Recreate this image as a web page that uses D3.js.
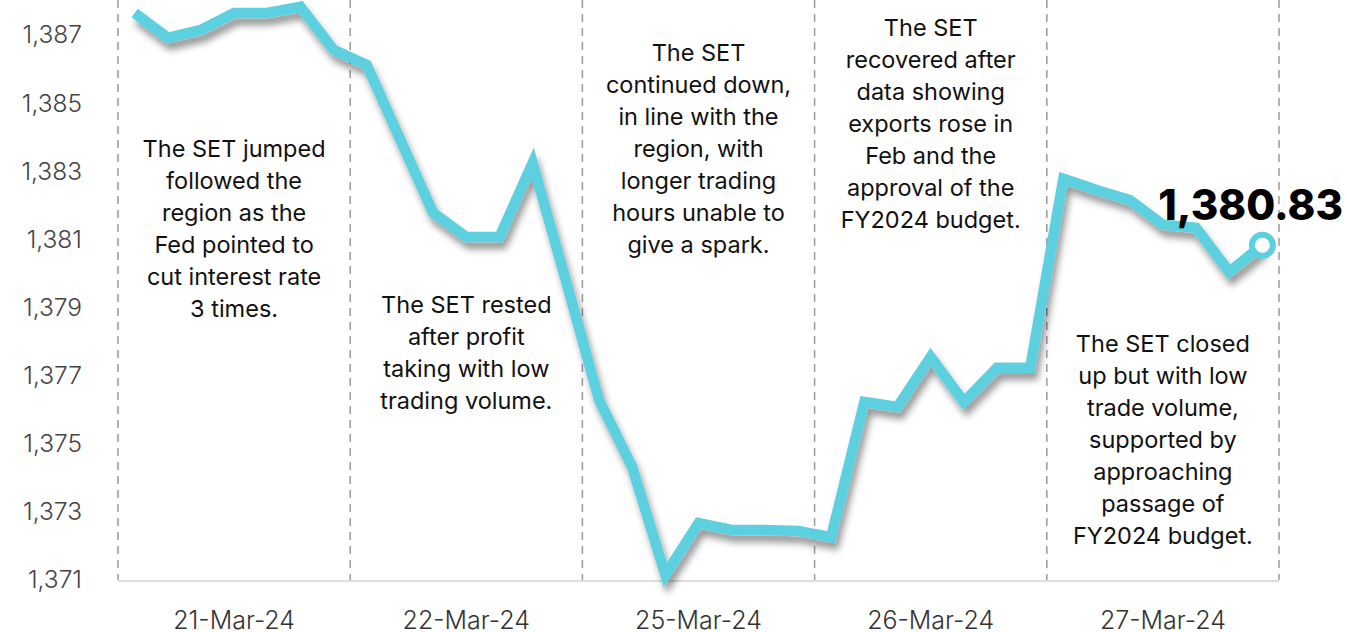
<!DOCTYPE html>
<html><head><meta charset="utf-8">
<script src="https://cdn.jsdelivr.net/npm/d3@7"></script>
<style>
html,body{margin:0;padding:0;background:#fff;}
svg{display:block;font-family:Inter, "Noto Sans", sans-serif;}
</style></head>
<body>
<svg id="chart" width="1347" height="632"></svg>
<script>
const days = ["21-Mar-24","22-Mar-24","25-Mar-24","26-Mar-24","27-Mar-24"];
const values = [
  1387.65,1386.92,1387.15,1387.65,1387.65,1387.83,1386.57,
  1386.12,1383.95,1381.78,1381.07,1381.07,1383.25,1379.8,
  1376.29,1374.32,1371.15,1372.67,1372.47,1372.47,1372.44,
  1372.26,1376.23,1376.08,1377.55,1376.23,1377.23,1377.23,
  1382.78,1382.45,1382.16,1381.43,1381.34,1380.05,1380.83
];
const yTicks = [1371,1373,1375,1377,1379,1381,1383,1385,1387];
const lastLabel = "1,380.83";
const notes = [
  ["The SET jumped","followed the","region as the","Fed pointed to","cut interest rate","3 times."],
  ["The SET rested","after profit","taking with low","trading volume."],
  ["The SET","continued down,","in line with the","region, with","longer trading","hours unable to","give a spark."],
  ["The SET","recovered after","data showing","exports rose in","Feb and the","approval of the","FY2024 budget."],
  ["The SET closed","up but with low","trade volume,","supported by","approaching","passage of","FY2024 budget."]
];
const noteTop = [149,305,53,28,344];

(function(){
const svg = d3.select("#chart");
const mLeft = 118, mRight = 1279, mTop = 0, mBottom = 580;
const x = d3.scaleBand().domain(days).range([mLeft,mRight]);
const xp = d3.scalePoint().domain(d3.range(values.length)).range([mLeft,mRight]).padding(0.5);
const y = d3.scaleLinear().domain([1371,1388.03]).range([mBottom,mTop]);

const defs = svg.append("defs");
const f = defs.append("filter").attr("id","sh").attr("x","-10%").attr("y","-10%").attr("width","120%").attr("height","130%");
f.append("feDropShadow").attr("dx",3).attr("dy",7).attr("stdDeviation",3.5).attr("flood-color","#000").attr("flood-opacity",0.4);

const ya = svg.append("g").attr("transform",`translate(${mLeft},0)`)
  .call(d3.axisLeft(y).tickValues(yTicks).tickFormat(d3.format(",")).tickSize(0).tickPadding(36));
ya.select(".domain").remove();
ya.selectAll("text").attr("font-size",24.5).attr("fill","#444").attr("font-weight",300).attr("font-family","Inter, sans-serif");

svg.append("line").attr("x1",mLeft).attr("x2",mRight).attr("y1",mBottom+1).attr("y2",mBottom+1)
  .attr("stroke","#ddd").attr("stroke-width",2);

const seps = days.map(d=>x(d)).concat([mRight]);
svg.selectAll("line.sep").data(seps).join("line").attr("class","sep")
  .attr("x1",d=>d).attr("x2",d=>d).attr("y1",0).attr("y2",mBottom)
  .attr("stroke","#9a9a9a").attr("stroke-width",1.5).attr("stroke-dasharray","8,6");

const xa = svg.append("g").attr("transform",`translate(0,${mBottom})`)
  .call(d3.axisBottom(x).tickSize(0).tickPadding(31));
xa.select(".domain").remove();
xa.selectAll("text").attr("font-size",25).attr("fill","#333").attr("font-weight",300).attr("font-family","Inter, sans-serif");

notes.forEach((lines,i)=>{
  const cx = x(days[i])+x.bandwidth()/2;
  const t = svg.append("text").attr("x",cx).attr("text-anchor","middle")
    .attr("font-size",23.5).attr("fill","#111");
  lines.forEach((l,k)=>{
    t.append("tspan").attr("x",cx).attr("y",noteTop[i]+k*32).attr("dy","0.35em").text(l);
  });
});

const line = d3.line().x((d,i)=>xp(i)).y(d=>y(d)).curve(d3.curveLinear);
svg.append("path").datum(values).attr("d",line).attr("fill","none")
  .attr("stroke","#5dd0df").attr("stroke-width",10.5).attr("stroke-linejoin","miter").attr("stroke-linecap","butt")
  .attr("filter","url(#sh)");

const li = values.length-1;
svg.append("circle").attr("cx",xp(li)).attr("cy",y(values[li])).attr("r",10.5)
  .attr("fill","#fff").attr("stroke","#5dd0df").attr("stroke-width",6);

svg.append("text").attr("x",1343).attr("y",220).attr("text-anchor","end")
  .attr("font-size",42).attr("font-weight",800).attr("fill","#000").text(lastLabel);
})();
</script>
</body></html>
